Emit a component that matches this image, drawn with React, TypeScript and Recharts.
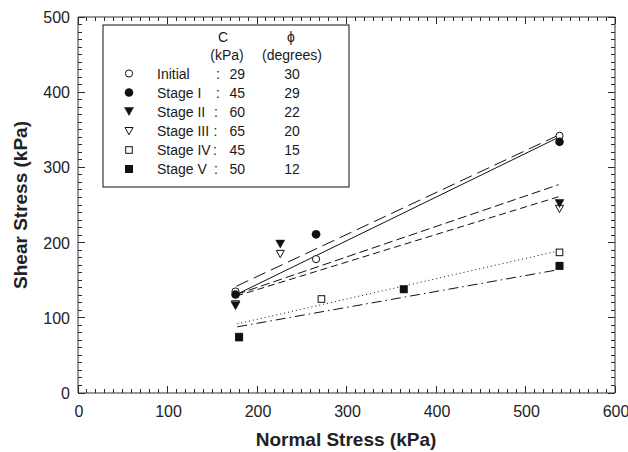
import React from 'react';
import { ScatterChart, Scatter, XAxis, YAxis, Customized } from 'recharts';

const FONT = '"Liberation Sans", Arial, Helvetica, sans-serif';
const AXIS_COLOR = '#333';
const INK = '#111';

// Axis ticks
const X_MAX = 600;
const Y_MAX = 500;
const xMinorTicks = Array.from({ length: 61 }, (_, i) => i * 10);
const yMinorTicks = Array.from({ length: 51 }, (_, i) => i * 10);
const xMajor = [0, 100, 200, 300, 400, 500, 600];
const yMajor = [0, 100, 200, 300, 400, 500];

// Legend table
const stageNames = ['Initial', 'Stage I', 'Stage II', 'Stage III', 'Stage IV', 'Stage V'];
const cohesion = [29, 45, 60, 65, 45, 50];
const friction = [30, 29, 22, 20, 15, 12];

// Measured points (normal stress, shear stress)
const initialX = [176, 266, 538];
const initialY = [135, 178, 342];
const stage1X = [176, 266, 538];
const stage1Y = [131, 211, 334];
const stage2X = [176, 226, 538];
const stage2Y = [116, 198, 252];
const stage3X = [176, 226, 538];
const stage3Y = [118, 185, 245];
const stage4X = [180, 272, 538];
const stage4Y = [75, 125, 187];
const stage5X = [180, 364, 538];
const stage5Y = [74, 138, 169];

// Failure envelope end points
const lineStartX = [177, 177, 177, 177, 178, 178];
const lineStartY = [131, 142, 131, 129, 92, 88];
const lineEndX = [537, 537, 537, 537, 537, 537];
const lineEndY = [340, 343, 277, 261, 189, 164];
const lineDash = ['', '13 6', '9 4', '7 4', '1 3', '10 4 1.5 4'];

const zip = (xs: number[], ys: number[]) => xs.map((x, i) => ({ x, y: ys[i] }));

// Chart geometry
const W = 628;
const H = 452;
const MARGIN = { top: 16, right: 12, bottom: 19, left: 18 };
const LEFT_AXIS_W = 60;
const RIGHT_AXIS_W = 1;
const TOP_AXIS_H = 1;
const BOTTOM_AXIS_H = 40;
const PLOT = {
  left: MARGIN.left + LEFT_AXIS_W,
  right: W - MARGIN.right - RIGHT_AXIS_W,
  top: MARGIN.top + TOP_AXIS_H,
  bottom: H - MARGIN.bottom - BOTTOM_AXIS_H,
};
const sx = (v: number) => PLOT.left + (v / X_MAX) * (PLOT.right - PLOT.left);
const sy = (v: number) => PLOT.bottom - (v / Y_MAX) * (PLOT.bottom - PLOT.top);
const crisp = (p: number) => Math.round(p - 0.5) + 0.5;

type Kind = 'openCircle' | 'filledCircle' | 'filledTri' | 'openTri' | 'openSquare' | 'filledSquare';
const kinds: Kind[] = ['openCircle', 'filledCircle', 'filledTri', 'openTri', 'openSquare', 'filledSquare'];

function marker(kind: Kind, cx: number, cy: number) {
  switch (kind) {
    case 'openCircle':
      return <circle cx={cx} cy={cy} r={3.6} fill="#fff" stroke={INK} strokeWidth={1} />;
    case 'filledCircle':
      return <circle cx={cx} cy={cy} r={4.3} fill={INK} stroke="none" />;
    case 'filledTri':
      return (
        <polygon
          points={`${cx - 4.5},${cy - 4} ${cx + 4.5},${cy - 4} ${cx},${cy + 4}`}
          fill={INK}
          stroke={INK}
          strokeWidth={0.5}
        />
      );
    case 'openTri':
      return (
        <polygon
          points={`${cx - 4},${cy - 3.5} ${cx + 4},${cy - 3.5} ${cx},${cy + 3.8}`}
          fill="#fff"
          stroke={INK}
          strokeWidth={1}
        />
      );
    case 'openSquare':
      return <rect x={cx - 3.3} y={cy - 3.3} width={6.6} height={6.6} fill="#fff" stroke={INK} strokeWidth={1} />;
    case 'filledSquare':
    default:
      return <rect x={cx - 4} y={cy - 4} width={8} height={8} fill={INK} stroke="none" />;
  }
}

const seriesPoints = [
  zip(initialX, initialY),
  zip(stage1X, stage1Y),
  zip(stage2X, stage2Y),
  zip(stage3X, stage3Y),
  zip(stage4X, stage4Y),
  zip(stage5X, stage5Y),
];

const lineData = stageNames.map((_, i) => [
  { x: lineStartX[i], y: lineStartY[i] },
  { x: lineEndX[i], y: lineEndY[i] },
]);

const tickLen = (v: number) => (v % 100 === 0 ? 7 : 4);

function renderBottomTick(props: any) {
  const x = Number(props.x);
  const y = Number(props.y);
  const v = props.payload.value;
  return (
    <g key={'b' + v}>
      <text x={x + 1} y={y + 23.5} textAnchor="middle" fontSize={16} fill="#222" style={{ fontFamily: FONT }}>
        {v}
      </text>
    </g>
  );
}

function renderLeftTick(props: any) {
  const x = Number(props.x);
  const y = Number(props.y);
  const v = props.payload.value;
  return (
    <g key={'l' + v}>
      <text x={x - 8} y={y + 6} textAnchor="end" fontSize={16} fill="#222" style={{ fontFamily: FONT }}>
        {v}
      </text>
    </g>
  );
}

const rowY = [73.5, 92.5, 111.5, 131, 150, 169];
const colonX = [218, 218, 216, 215.5, 215, 216];

function tickPath() {
  let d = '';
  for (const v of xMinorTicks) {
    const x = crisp(sx(v));
    d += `M${x},${PLOT.bottom}V${PLOT.bottom - tickLen(v)}`;
    d += `M${x},${PLOT.top}V${PLOT.top + tickLen(v)}`;
  }
  for (const v of yMinorTicks) {
    const y = crisp(sy(v));
    d += `M${PLOT.left},${y}H${PLOT.left + tickLen(v)}`;
    d += `M${PLOT.right},${y}H${PLOT.right - tickLen(v)}`;
  }
  return d;
}

const Overlay = () => {
  const t = { fontFamily: FONT, fontSize: 14, fill: '#1a1a1a' } as React.CSSProperties;
  return (
    <g>
      <path d={tickPath()} stroke="#2a2a2a" strokeWidth={1} fill="none" shapeRendering="crispEdges" />
      <text x={346} y={446} textAnchor="middle" style={{ fontFamily: FONT, fontSize: 19, fontWeight: 700, fill: '#222' }}>
        Normal Stress (kPa)
      </text>
      <text
        transform="translate(27,205) rotate(-90)"
        textAnchor="middle"
        style={{ fontFamily: FONT, fontSize: 19, fontWeight: 700, fill: '#222' }}
      >
        Shear Stress (kPa)
      </text>
      <rect x={103} y={25} width={246} height={162} fill="#fff" stroke={INK} strokeWidth={1} />
      <text x={223} y={42} textAnchor="middle" style={t}>C</text>
      <text x={227} y={60} textAnchor="middle" style={t}>(kPa)</text>
      <text x={291} y={42} textAnchor="middle" style={t}>ϕ</text>
      <text x={292} y={60} textAnchor="middle" style={t}>(degrees)</text>
      {stageNames.map((name, i) => (
        <g key={name}>
          {marker(kinds[i], 129, rowY[i])}
          <text x={157} y={rowY[i] + 5} style={t}>{name}</text>
          <text x={colonX[i]} y={rowY[i] + 5} textAnchor="middle" style={t}>:</text>
          <text x={245} y={rowY[i] + 5} textAnchor="end" style={t}>{cohesion[i]}</text>
          <text x={292} y={rowY[i] + 5} textAnchor="middle" style={t}>{friction[i]}</text>
        </g>
      ))}
    </g>
  );
};

export default function App() {
  return (
    <div style={{ position: 'absolute', left: 0, top: 0, width: W, height: H, background: '#fff' }}>
      <ScatterChart width={W} height={H} margin={MARGIN}>
        <XAxis
          xAxisId="b"
          dataKey="x"
          type="number"
          orientation="bottom"
          domain={[0, X_MAX]}
          ticks={xMajor}
          interval={0}
          height={BOTTOM_AXIS_H}
          tickSize={0}
          tickMargin={0}
          tickLine={false}
          axisLine={{ stroke: AXIS_COLOR, strokeWidth: 1 }}
          tick={renderBottomTick}
        />
        <XAxis
          xAxisId="t"
          dataKey="x"
          type="number"
          orientation="top"
          domain={[0, X_MAX]}
          ticks={xMajor}
          height={TOP_AXIS_H}
          tickLine={false}
          axisLine={{ stroke: AXIS_COLOR, strokeWidth: 1 }}
          tick={false}
        />
        <YAxis
          yAxisId="l"
          dataKey="y"
          type="number"
          orientation="left"
          domain={[0, Y_MAX]}
          ticks={yMajor}
          interval={0}
          width={LEFT_AXIS_W}
          tickSize={0}
          tickMargin={0}
          tickLine={false}
          axisLine={{ stroke: AXIS_COLOR, strokeWidth: 1 }}
          tick={renderLeftTick}
        />
        <YAxis
          yAxisId="r"
          dataKey="y"
          type="number"
          orientation="right"
          domain={[0, Y_MAX]}
          ticks={yMajor}
          width={RIGHT_AXIS_W}
          tickLine={false}
          axisLine={{ stroke: AXIS_COLOR, strokeWidth: 1 }}
          tick={false}
        />
        {lineData.map((d, i) => (
          <Scatter
            key={'line' + i}
            xAxisId="b"
            yAxisId="l"
            data={d}
            fill="none"
            line={{ stroke: INK, strokeWidth: 1, strokeDasharray: lineDash[i] || undefined }}
            shape={() => <g />}
            isAnimationActive={false}
          />
        ))}
        {[3, 0, 1, 4, 5, 2].map((i) => (
          <Scatter
            key={'pts' + i}
            xAxisId="b"
            yAxisId="l"
            data={seriesPoints[i]}
            shape={(p: any) => marker(kinds[i], p.cx, p.cy)}
            isAnimationActive={false}
          />
        ))}
        <Customized component={Overlay} />
      </ScatterChart>
    </div>
  );
}
